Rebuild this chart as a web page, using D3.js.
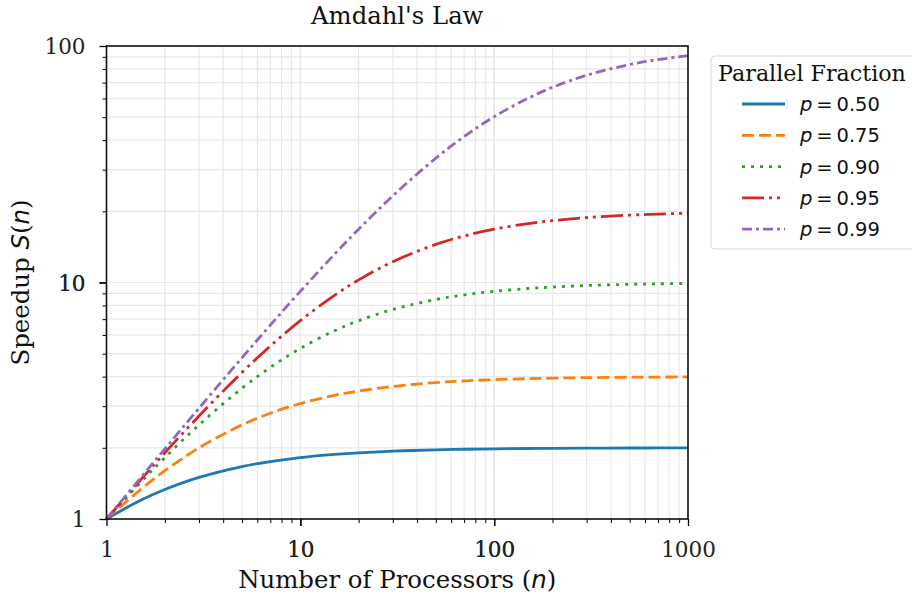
<!DOCTYPE html>
<html>
<head>
<meta charset="utf-8">
<script src="https://cdn.jsdelivr.net/npm/d3@7"></script>
<style>
  html, body { margin: 0; padding: 0; background: #fff; }
  svg { display: block; }
</style>
</head>
<body>
<svg id="chart" width="912" height="596"></svg>
<script>
// ---- data ----
const nValues = [1, 1.5, 2, 3, 5, 7, 10, 15, 20, 30, 50, 70, 100, 150, 200, 300, 500, 700, 1000];
const speedupP050 = [1, 1.2, 1.333, 1.5, 1.667, 1.75, 1.818, 1.875, 1.905, 1.935, 1.961, 1.972, 1.980, 1.987, 1.990, 1.993, 1.996, 1.997, 1.998];
const speedupP075 = [1, 1.333, 1.6, 2.0, 2.5, 2.8, 3.077, 3.333, 3.478, 3.636, 3.774, 3.836, 3.883, 3.922, 3.941, 3.960, 3.976, 3.983, 3.988];
const speedupP090 = [1, 1.429, 1.818, 2.5, 3.571, 4.375, 5.263, 6.25, 6.897, 7.692, 8.475, 8.861, 9.174, 9.434, 9.569, 9.709, 9.823, 9.873, 9.911];
const speedupP095 = [1, 1.463, 1.905, 2.727, 4.167, 5.385, 6.897, 8.824, 10.256, 12.245, 14.493, 15.730, 16.807, 17.751, 18.265, 18.809, 19.268, 19.471, 19.627];
const speedupP099 = [1, 1.493, 1.980, 2.941, 4.808, 6.604, 9.174, 13.158, 16.807, 23.256, 33.557, 41.420, 50.251, 60.241, 66.890, 75.188, 83.472, 87.610, 90.992];
const seriesLabels = ["0.50", "0.75", "0.90", "0.95", "0.99"];
const xTickValues = [1, 10, 100, 1000];
const yTickValues = [1, 10, 100];

const seriesValues = [speedupP050, speedupP075, speedupP090, speedupP095, speedupP099];
const colors = ["#1f77b4", "#ff7f0e", "#2ca02c", "#d62728", "#9467bd"];
const dashes = [null, "12,5", "3,6", "22,5,3,5,3,5", "10,4,3,4"];

const svg = d3.select("#chart");
const margin = { left: 106.5, right: 688, top: 46, bottom: 519 };
const x = d3.scaleLog().domain([1, 1000]).range([margin.left, margin.right]);
const y = d3.scaleLog().domain([1, 100]).range([margin.bottom, margin.top]);

const serif = "'DejaVu Serif', serif";
const sans = "'DejaVu Sans', sans-serif";

// grid
const minorX = [], minorY = [];
for (let d = 1; d < 1000; d *= 10) for (let k = 1; k <= 10; k++) minorX.push(d * k);
for (let d = 1; d < 100; d *= 10) for (let k = 1; k <= 10; k++) minorY.push(d * k);
const grid = svg.append("g");
grid.selectAll("line.gx").data(minorX).join("line")
  .attr("x1", d => x(d)).attr("x2", d => x(d))
  .attr("y1", margin.top).attr("y2", margin.bottom)
  .attr("stroke", "#e8e8e8").attr("stroke-width", 1.2);
grid.selectAll("line.gy").data(minorY).join("line")
  .attr("y1", d => y(d)).attr("y2", d => y(d))
  .attr("x1", margin.left).attr("x2", margin.right)
  .attr("stroke", "#e8e8e8").attr("stroke-width", 1.2);

// lines
const line = d3.line().x(d => x(d[0])).y(d => y(d[1])).curve(d3.curveCatmullRom.alpha(0.5));
const plot = svg.append("g");
seriesValues.forEach((vals, i) => {
  plot.append("path")
    .attr("d", line(nValues.map((n, j) => [n, vals[j]])))
    .attr("fill", "none")
    .attr("stroke", colors[i])
    .attr("stroke-width", 2.8)
    .attr("stroke-dasharray", dashes[i]);
});

// axes
const xAxis = d3.axisBottom(x).tickValues(minorX).tickSize(3.5).tickFormat(d => xTickValues.includes(d) ? d3.format("d")(d) : "");
const gx = svg.append("g").attr("transform", `translate(0,${margin.bottom})`).call(xAxis);
gx.selectAll(".tick line").attr("y2", d => xTickValues.includes(d) ? 7 : 4).attr("stroke-width", d => xTickValues.includes(d) ? 1.3 : 1);
gx.selectAll(".tick text").attr("font-family", serif).attr("font-size", 21.5).attr("fill", "#222").attr("dy", "0.35em").attr("y", 30);
gx.select(".domain").remove();

const yAxis = d3.axisLeft(y).tickValues(minorY).tickSize(3.5).tickFormat(d => yTickValues.includes(d) ? d3.format("d")(d) : "");
const gy = svg.append("g").attr("transform", `translate(${margin.left},0)`).call(yAxis);
gy.selectAll(".tick line").attr("x2", d => yTickValues.includes(d) ? -7 : -4).attr("stroke-width", d => yTickValues.includes(d) ? 1.3 : 1);
gy.selectAll(".tick text").attr("font-family", serif).attr("font-size", 21.5).attr("fill", "#222").attr("x", -21).attr("dy", "0.35em");
gy.select(".domain").remove();

// frame
svg.append("rect")
  .attr("x", margin.left).attr("y", margin.top)
  .attr("width", margin.right - margin.left).attr("height", margin.bottom - margin.top)
  .attr("fill", "none").attr("stroke", "#111").attr("stroke-width", 1.6);

// title
svg.append("text").attr("x", (margin.left + margin.right) / 2).attr("y", 24)
  .attr("text-anchor", "middle").attr("font-family", serif).attr("font-size", 24.3).attr("fill", "#111")
  .text("Amdahl's Law");

// x label
const xl = svg.append("text").attr("x", (margin.left + margin.right) / 2).attr("y", 588)
  .attr("text-anchor", "middle").attr("font-family", serif).attr("font-size", 24.4).attr("fill", "#111");
xl.append("tspan").text("Number of Processors (");
xl.append("tspan").attr("font-family", sans).attr("font-style", "italic").text("n");
xl.append("tspan").text(")");

// y label
const yl = svg.append("text").attr("transform", `translate(29,${(margin.top + margin.bottom) / 2}) rotate(-90)`)
  .attr("text-anchor", "middle").attr("font-family", serif).attr("font-size", 24.4).attr("fill", "#111");
yl.append("tspan").text("Speedup ");
yl.append("tspan").attr("font-family", sans).attr("font-style", "italic").text("S");
yl.append("tspan").text("(");
yl.append("tspan").attr("font-family", sans).attr("font-style", "italic").text("n");
yl.append("tspan").text(")");

// legend
const lg = svg.append("g");
lg.append("rect").attr("x", 711).attr("y", 56).attr("width", 215).attr("height", 193)
  .attr("rx", 4).attr("fill", "#fff").attr("fill-opacity", 0.8).attr("stroke", "#d9d9d9").attr("stroke-width", 1);
lg.append("text").attr("x", 812).attr("y", 81).attr("text-anchor", "middle")
  .attr("font-family", serif).attr("font-size", 22.2).attr("fill", "#111").text("Parallel Fraction");
seriesLabels.forEach((lab, i) => {
  const yy = 104 + i * 31.3;
  lg.append("line").attr("x1", 742).attr("x2", 785).attr("y1", yy).attr("y2", yy)
    .attr("stroke", colors[i]).attr("stroke-width", 2.8).attr("stroke-dasharray", dashes[i]);
  const t = lg.append("text").attr("x", 800).attr("y", yy + 7)
    .attr("font-family", sans).attr("font-size", 19.5).attr("fill", "#111");
  t.append("tspan").attr("font-style", "italic").text("p");
  t.append("tspan").text("\u2009=\u20090" + lab.slice(1));
});
</script>
</body>
</html>
